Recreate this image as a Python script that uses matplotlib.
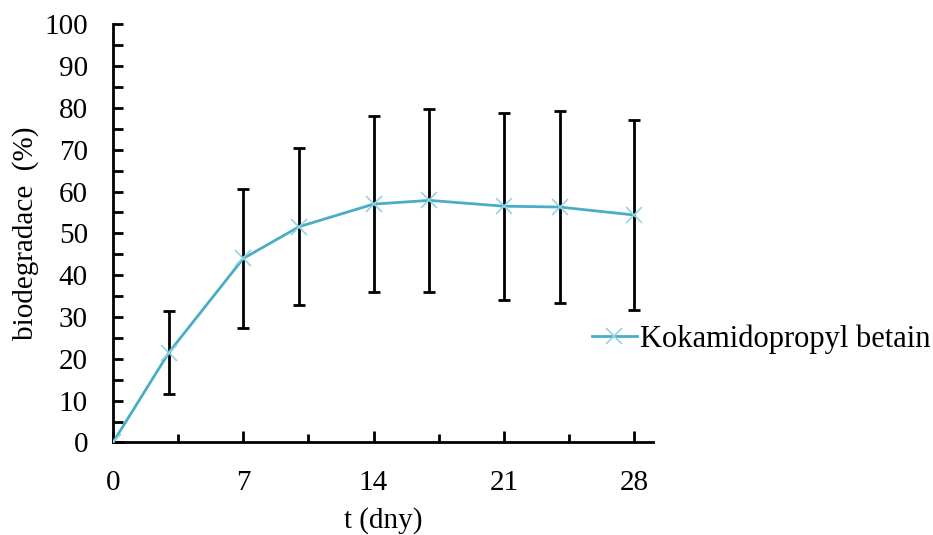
import numpy as np
import matplotlib.pyplot as plt
from matplotlib.ticker import MultipleLocator

plt.rcParams['font.family'] = ['Liberation Serif', 'DejaVu Serif']

# sampling days and mean biodegradation with standard deviation
days = [0, 3, 7, 10, 14, 17, 21, 24, 28]
biodeg = [0, 21.5, 44.0, 51.6, 57.0, 57.9, 56.5, 56.3, 54.4]
sd = [0, 9.9, 16.6, 18.8, 21.0, 21.8, 22.4, 22.9, 22.8]
series_name = "Kokamidopropyl betain"

fig = plt.figure(figsize=(9.33, 5.35), dpi=100)
ax = fig.add_axes([0.1211, 0.1729, 0.5785, 0.7817])

# error bars (skip the zero point)
ax.errorbar(days[1:], biodeg[1:], yerr=sd[1:], fmt='none', ecolor='black',
            elinewidth=2, capsize=4, capthick=2, zorder=2)
ax.plot(days, biodeg, color='#4bacc6', lw=2, marker='x', ms=12, mew=1.2,
        mec='#93d3e4', label=series_name, zorder=3)

ax.set_xlim(0, 29)
ax.set_ylim(0, 100)
ax.xaxis.set_major_locator(MultipleLocator(7))
ax.xaxis.set_minor_locator(MultipleLocator(3.5))
ax.yaxis.set_major_locator(MultipleLocator(10))
ax.yaxis.set_minor_locator(MultipleLocator(5))

for s in ['top', 'right']:
    ax.spines[s].set_visible(False)
for s in ['left', 'bottom']:
    ax.spines[s].set_linewidth(2)

ax.tick_params(axis='both', which='both', direction='in', width=2, labelsize=21)
ax.tick_params(axis='x', which='major', length=8, pad=20)
ax.tick_params(axis='x', which='minor', length=6)
ax.tick_params(axis='y', which='major', length=7, pad=18)
ax.tick_params(axis='y', which='minor', length=7)

ax.set_xlabel("t (dny)", fontsize=21, labelpad=8)
ax.set_ylabel("biodegradace  (%)", fontsize=21, labelpad=4)

ax.legend(loc='center left', bbox_to_anchor=(0.634, 0.366),
          bbox_transform=fig.transFigure, frameon=False, fontsize=22,
          handlelength=1.5, handletextpad=0.1, borderaxespad=0, borderpad=0)

fig.savefig("out.png", dpi=100)
